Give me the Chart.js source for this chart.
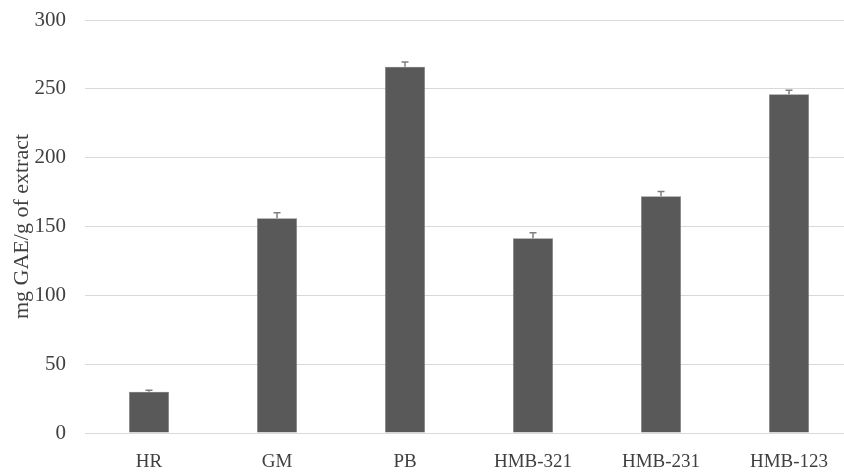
<!DOCTYPE html>
<html>
<head>
<meta charset="utf-8">
<script src="https://cdn.jsdelivr.net/npm/chart.js@4/dist/chart.umd.min.js"></script>
<style>
  html, body { margin: 0; padding: 0; background: #fff; overflow: hidden; }
  #wrap { width: 853px; height: 472px; }
</style>
</head>
<body>
<div id="wrap"><canvas id="barChart"></canvas></div>
<script>
// datos
var categorias = ['HR', 'GM', 'PB', 'HMB-321', 'HMB-231', 'HMB-123'];
var valores    = [30, 156, 266, 141.5, 172, 246];
var errores    = [1, 4, 3.5, 4, 3.5, 3];
var ticksY     = [0, 50, 100, 150, 200, 250, 300];

// barras de error dibujadas con la escala del grafico
var errorBars = {
  id: 'errorBars',
  afterDatasetsDraw: function(chart) {
    var ctx = chart.ctx;
    var meta = chart.getDatasetMeta(0);
    var y = chart.scales.y;
    ctx.save();
    ctx.strokeStyle = '#7f7f7f';
    ctx.lineWidth = 1.5;
    meta.data.forEach(function(bar, i) {
      var top = y.getPixelForValue(valores[i] + errores[i]);
      var base = y.getPixelForValue(valores[i]);
      ctx.beginPath();
      ctx.moveTo(bar.x, base);
      ctx.lineTo(bar.x, top);
      ctx.moveTo(bar.x - 3.5, top);
      ctx.lineTo(bar.x + 3.5, top);
      ctx.stroke();
    });
    ctx.restore();
  }
};

var barChartCanvas = document.getElementById('barChart').getContext('2d');

new Chart(barChartCanvas, {
  type: 'bar',
  data: {
    labels: categorias,
    datasets: [{
      label: 'Extractos',
      backgroundColor: '#595959',
      borderColor: '#808080',
      borderWidth: 0.5,
      data: valores,
      barPercentage: 0.3125,
      categoryPercentage: 1
    }]
  },
  options: {
    responsive: true,
    maintainAspectRatio: false,
    animation: false,
    layout: { padding: { top: 20, left: 0, right: 0, bottom: 0 } },
    plugins: { legend: { display: false }, tooltip: { enabled: false } },
    scales: {
      x: {
        grid: { display: false },
        border: { display: false },
        ticks: { color: '#404040', font: { family: 'Liberation Serif', size: 19 }, padding: 10 },
        afterFit: function(scale) { scale.height = 39; }
      },
      y: {
        min: 0,
        max: 300,
        afterBuildTicks: function(scale) {
          scale.ticks = ticksY.map(function(v) { return { value: v }; });
        },
        grid: { color: '#d9d9d9', lineWidth: 1, drawTicks: false },
        border: { display: false },
        ticks: { color: '#404040', font: { family: 'Liberation Serif', size: 21 }, padding: 19 },
        title: {
          display: true,
          text: 'mg GAE/g of extract',
          color: '#404040',
          font: { family: 'Liberation Serif', size: 22 },
          padding: { top: 9, bottom: 0 }
        },
        afterFit: function(scale) {
          scale.width = 85;
          scale.paddingTop = 0;
          scale.paddingBottom = 0;
        }
      }
    }
  },
  plugins: [errorBars]
});
</script>
</body>
</html>
